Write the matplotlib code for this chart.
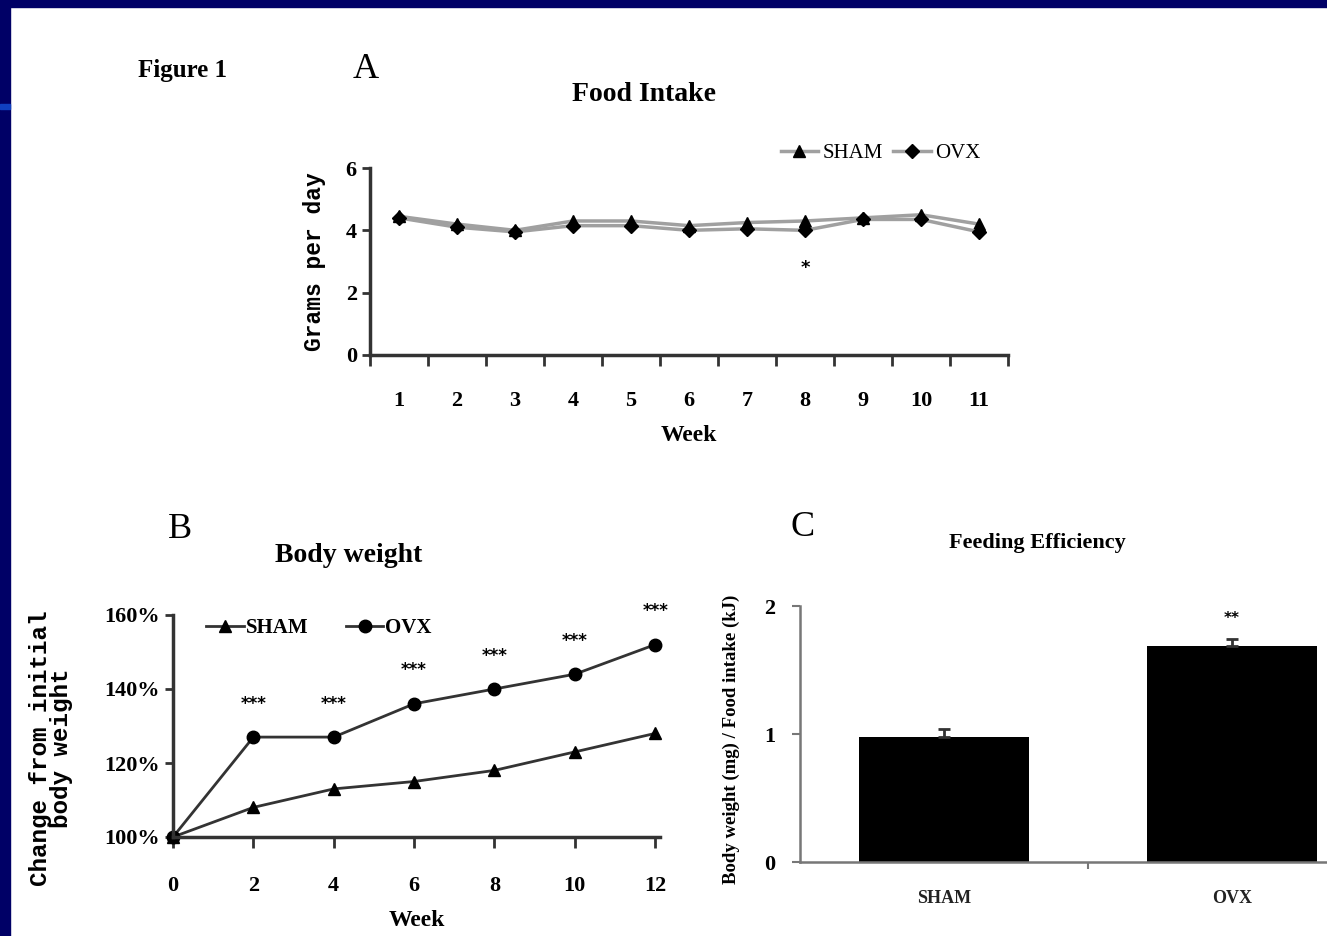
import matplotlib
matplotlib.use("Agg")
import matplotlib.pyplot as plt
from matplotlib.patches import Rectangle

# panel A - food intake (grams per day)
weeks_a = [1, 2, 3, 4, 5, 6, 7, 8, 9, 10, 11]
sham_food = [4.45, 4.2, 4.0, 4.3, 4.3, 4.15, 4.25, 4.3, 4.4, 4.5, 4.2]
ovx_food = [4.4, 4.1, 3.95, 4.15, 4.15, 4.0, 4.05, 4.0, 4.35, 4.35, 3.95]

# panel B - body weight change
weeks_b = [0, 2, 4, 6, 8, 10, 12]
sham_bw = [100, 108, 113, 115, 118, 123, 128]
ovx_bw = [100, 127, 127, 136, 140, 144, 152]
bw_stars = ["", "***", "***", "***", "***", "***", "***"]

# panel C - feeding efficiency
groups = ["SHAM", "OVX"]
eff = [0.98, 1.69]
eff_err = [0.06, 0.05]
eff_stars = ["", "**"]

W, H = 1327, 936
fig = plt.figure(figsize=(W / 100, H / 100), dpi=100)
fig.patch.set_facecolor("white")

serif = "Liberation Serif"
mono = "Liberation Mono"
navy = "#000066"


def px(l, t, r, b):
    return [l / W, 1 - b / H, (r - l) / W, (b - t) / H]


# navy frame top/left like the slide
fig.add_artist(Rectangle((0, 1 - 7 / H), 1, 7 / H, transform=fig.transFigure, color=navy, zorder=10))
fig.add_artist(Rectangle((0, 0), 10 / W, 1, transform=fig.transFigure, color=navy, zorder=10))
fig.add_artist(Rectangle((0, 1 - 109 / H), 10 / W, 5 / H, transform=fig.transFigure, color="#1040c0", zorder=11))

fig.text(183 / W, 1 - 70 / H, "Figure 1", family=serif, weight="bold", fontsize=18, ha="center", va="center")

# ---- A
ax = fig.add_axes(px(370, 168, 1008, 355))
ax.plot(weeks_a, sham_food, color="#a0a0a0", lw=2.5, marker="^", ms=8, mfc="black", mec="black", label="SHAM")
ax.plot(weeks_a, ovx_food, color="#a0a0a0", lw=2.5, marker="D", ms=7, mfc="black", mec="black", label="OVX")
ax.set_xlim(0.5, 11.5)
ax.set_ylim(0, 6)
ax.set_yticks([0, 2, 4, 6])
ax.set_xticks([w - 0.5 for w in weeks_a] + [11.5])
ax.set_xticklabels([])
ax.set_xticks(weeks_a, minor=True)
ax.set_xticklabels([str(w) for w in weeks_a], minor=True)
ax.tick_params(axis="x", which="minor", length=0, pad=26)
ax.tick_params(axis="x", which="major", length=8, width=2, color="#333333")
ax.tick_params(axis="y", length=6, width=2, color="#333333")
for lab in ax.get_xticklabels(minor=True) + ax.get_yticklabels():
    lab.set_family(serif)
    lab.set_weight("bold")
    lab.set_fontsize(16)
for s in ["top", "right"]:
    ax.spines[s].set_visible(False)
for s in ["left", "bottom"]:
    ax.spines[s].set_linewidth(2.5)
    ax.spines[s].set_color("#333333")
ax.set_xlabel("Week", family=serif, weight="bold", fontsize=17, labelpad=10)
ax.set_ylabel("Grams per day", family=mono, weight="bold", fontsize=16.5, labelpad=14)
ax.text(8, 2.8, "*", ha="center", va="center", fontsize=13, weight="bold")
ax.set_title("Food Intake", family=serif, weight="bold", fontsize=20, pad=48, x=0.43)
fig.text(366 / W, 1 - 70 / H, "A", family=serif, fontsize=26, ha="center", va="center")
ax.legend(loc="center", bbox_to_anchor=(0.80, 1.08), ncol=2, frameon=False, handlelength=1.8,
          columnspacing=0.5, handletextpad=0.2, prop={"family": serif, "size": 15})

# ---- B
bx = fig.add_axes(px(173, 615, 660, 837))
bx.plot(weeks_b, sham_bw, color="#333333", lw=2, marker="^", ms=9, mfc="black", mec="black",
        label="SHAM", clip_on=False)
bx.plot(weeks_b, ovx_bw, color="#333333", lw=2, marker="o", ms=9, mfc="black", mec="black",
        label="OVX", clip_on=False)
for x, y, s in zip(weeks_b, ovx_bw, bw_stars):
    if s:
        bx.text(x, y + 9, s, ha="center", va="center", fontsize=12, weight="bold")
bx.set_xlim(0, 12.12)
bx.set_ylim(100, 160)
bx.set_xticks(weeks_b)
bx.set_yticks([100, 120, 140, 160])
bx.set_yticklabels(["100%", "120%", "140%", "160%"])
bx.tick_params(axis="x", length=8, width=2, color="#333333", pad=20)
bx.tick_params(axis="y", length=6, width=2, color="#333333")
for lab in bx.get_xticklabels() + bx.get_yticklabels():
    lab.set_family(serif)
    lab.set_weight("bold")
    lab.set_fontsize(16)
for s in ["top", "right"]:
    bx.spines[s].set_visible(False)
for s in ["left", "bottom"]:
    bx.spines[s].set_linewidth(2.5)
    bx.spines[s].set_color("#333333")
bx.set_xlabel("Week", family=serif, weight="bold", fontsize=17, labelpad=10)
bx.set_ylabel("Change from initial\nbody weight", family=mono, weight="bold", fontsize=17.5,
              linespacing=0.9)
bx.yaxis.set_label_coords(-0.205, 0.40)
bx.set_title("Body weight", family=serif, weight="bold", fontsize=20, pad=38, x=0.36)
fig.text(180 / W, 1 - 530 / H, "B", family=serif, fontsize=26, ha="center", va="center")
bx.legend(loc="center", bbox_to_anchor=(0.30, 0.94), ncol=2, frameon=False, handlelength=1.8,
          columnspacing=1.8, handletextpad=0.1, prop={"family": serif, "size": 15, "weight": "bold"})

# ---- C
cx = fig.add_axes(px(800, 606, 1376, 862))
xs = [0.5, 1.5]
cx.bar(xs, eff, width=0.59, color="black")
cx.errorbar(xs, eff, yerr=[[0, 0], eff_err], fmt="none", ecolor="#333333", elinewidth=2, capsize=4, capthick=2)
for x, y, e, s in zip(xs, eff, eff_err, eff_stars):
    if s:
        cx.text(x, y + e + 0.16, s, ha="center", va="center", fontsize=11, weight="bold")
cx.set_xlim(0, 2)
cx.set_ylim(0, 2)
cx.set_yticks([0, 1, 2])
cx.set_xticks([1])
cx.set_xticklabels([""])
cx.set_xticks(xs, minor=True)
cx.set_xticklabels(groups, minor=True)
cx.tick_params(axis="x", which="minor", length=0, pad=20)
cx.tick_params(axis="x", which="major", length=5, width=1.5, color="#777777")
cx.tick_params(axis="y", length=6, width=1.5, color="#777777", pad=12)
for lab in cx.get_xticklabels(minor=True):
    lab.set_family(serif)
    lab.set_weight("bold")
    lab.set_fontsize(13)
    lab.set_color("#222222")
for lab in cx.get_yticklabels():
    lab.set_family(serif)
    lab.set_weight("bold")
    lab.set_fontsize(16)
for s in ["top", "right"]:
    cx.spines[s].set_visible(False)
for s in ["left", "bottom"]:
    cx.spines[s].set_linewidth(1.8)
    cx.spines[s].set_color("#777777")
cx.set_ylabel("Body weight (mg) / Food intake (kJ)", family=serif, weight="bold", fontsize=13.5)
cx.yaxis.set_label_coords(-0.105, 0.48)
fig.text(1037 / W, 1 - 543 / H, "Feeding Efficiency", family=serif, weight="bold", fontsize=16,
         ha="center", va="center")
fig.text(803 / W, 1 - 528 / H, "C", family=serif, fontsize=26, ha="center", va="center")

fig.savefig("out.png", dpi=100)
